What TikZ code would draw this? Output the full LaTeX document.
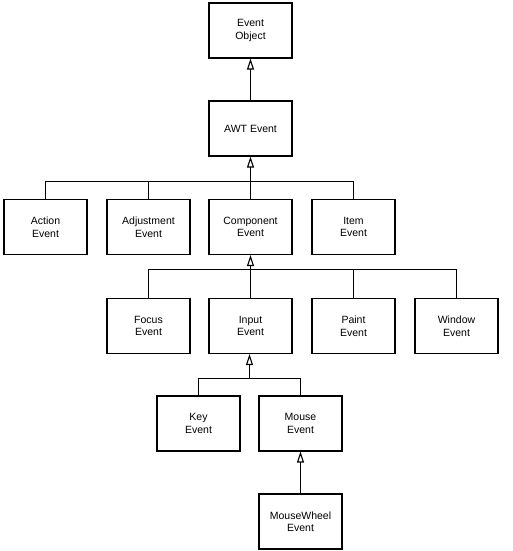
\documentclass[tikz,border=0pt]{standalone}
\usepackage{fontspec}
\setmainfont{Liberation Sans}
\usetikzlibrary{arrows.meta}
\begin{document}
\begin{tikzpicture}[x=1pt,y=-1pt,
  cls/.style={draw, line width=1.1pt, minimum width=83pt, minimum height=55pt, align=center, inner sep=0pt,
    font=\fontsize{10.5}{12.5}\selectfont, fill=white},
  inh/.style={line width=1.1pt, -{Triangle[open, length=11pt, width=7pt, line width=1.1pt]}},
  link/.style={line width=1.1pt}]
\useasboundingbox (0,0) rectangle (512,551);
\node[cls] (eo) at (250.5,30.5) {Event\\Object};
\node[cls] (awt) at (250.5,128.5) {AWT Event};
\node[cls] (action) at (45.5,227) {Action\\Event};
\node[cls] (adj) at (148.5,227) {Adjustment\\Event};
\node[cls] (comp) at (250.5,227) {Component\\Event};
\node[cls] (item) at (353.5,227) {Item\\Event};
\node[cls] (focus) at (148.5,326) {Focus\\Event};
\node[cls] (input) at (250.5,326) {Input\\Event};
\node[cls] (paint) at (353.5,326) {Paint\\Event};
\node[cls] (window) at (456.5,326) {Window\\Event};
\node[cls] (key) at (198.5,423.5) {Key\\Event};
\node[cls] (mouse) at (300.5,423.5) {Mouse\\Event};
\node[cls] (mw) at (300.5,521.5) {MouseWheel\\Event};
\coordinate (b1) at (250.5,181.5);
\coordinate (b2) at (250.5,269.5);
\coordinate (b3) at (249.5,378.5);
\draw[inh] (awt.north) -- (eo.south);
\draw[inh] (comp.north) -- (awt.south);
\draw[link] (action.north) |- (b1) -| (item.north);
\draw[link] (adj.north) -- (adj.north |- b1);
\draw[inh] (input.north) -- (comp.south);
\draw[link] (focus.north) |- (b2) -| (window.north);
\draw[link] (paint.north) -- (paint.north |- b2);
\draw[link] (key.north) |- (b3) -| (mouse.north);
\draw[inh] (b3) -- (b3 |- input.south);
\draw[inh] (mw.north) -- (mouse.south);
\end{tikzpicture}
\end{document}
